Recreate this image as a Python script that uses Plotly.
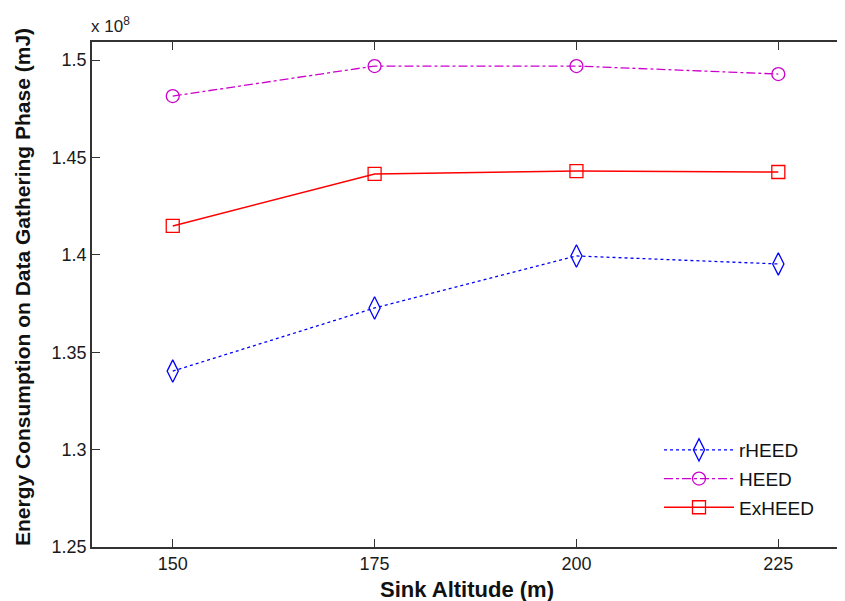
import plotly.graph_objects as go

altitude = [150, 175, 200, 225]
rheed = [1.3403, 1.3727, 1.3994, 1.3953]
heed = [1.4815, 1.4969, 1.4969, 1.4928]
exheed = [1.4148, 1.4415, 1.4430, 1.4425]
x_ticks = [150, 175, 200, 225]
y_ticks = [1.25, 1.3, 1.35, 1.4, 1.45, 1.5]
y_tick_text = ["1.25", "1.3", "1.35", "1.4", "1.45", "1.5"]

FONT = "Liberation Sans, Arial"

fig = go.Figure()
fig.add_trace(go.Scatter(x=altitude, y=rheed, name="rHEED", mode="lines+markers", legendgroup="a",
                         line=dict(color="#0000ff", width=1.3, dash="dot"),
                         marker=dict(symbol="diamond-tall-open", size=16, color="#0000ff", line=dict(width=1.3))))
fig.add_trace(go.Scatter(x=altitude, y=heed, name="HEED", mode="lines+markers", legendgroup="b",
                         line=dict(color="#cc00cc", width=1.3, dash="dashdot"),
                         marker=dict(symbol="circle-open", size=13, color="#cc00cc", line=dict(width=1.3))))
fig.add_trace(go.Scatter(x=altitude, y=exheed, name="ExHEED", mode="lines+markers", legendgroup="c",
                         line=dict(color="#ff0000", width=1.5),
                         marker=dict(symbol="square-open", size=13, color="#ff0000", line=dict(width=1.3))))

# screen geometry: page body has an 8px margin; plot area 92..845 x 42..547
L, T, W, H, B = 84, 34, 837, 593, 54
PW, PH = W - L, H - T - B
def px(x):
    return (x - 92) / PW
def py(y):
    return 1 - (y - 42) / PH

axis_font = dict(family=FONT, size=18, color="#1a1a1a")
fig.update_layout(
    width=W, height=H,
    margin=dict(l=L, r=0, t=T, b=B),
    paper_bgcolor="white", plot_bgcolor="white",
    showlegend=True,
    legend=dict(x=px(659), y=py(431), xanchor="left", yanchor="top",
                font=dict(family=FONT, size=19, color="#111111"),
                bgcolor="rgba(0,0,0,0)", tracegroupgap=1, itemwidth=70),
    xaxis=dict(range=[140, 233.26], tickvals=x_ticks, ticks="inside", ticklen=8,
               showline=True, linecolor="#333333", linewidth=1.5, mirror="allticks",
               showgrid=False, zeroline=False, tickfont=axis_font, tickcolor="#333333"),
    yaxis=dict(range=[1.25, 1.50924], tickvals=y_ticks, ticktext=y_tick_text, ticks="inside", ticklen=8,
               showline=True, linecolor="#333333", linewidth=1.5, mirror=False,
               showgrid=False, zeroline=False, tickfont=axis_font, tickcolor="#333333"),
    annotations=[
        dict(text="x 10<sup>8</sup>", x=px(89), y=py(25), xref="paper", yref="paper", showarrow=False,
             font=dict(family=FONT, size=17, color="#222222"),
             xanchor="left", yanchor="middle"),
        dict(text="<b>Sink Altitude (m)</b>", x=px(467), y=py(589), xref="paper", yref="paper", showarrow=False,
             font=dict(family=FONT, size=22, color="#111111"),
             xanchor="center", yanchor="middle"),
        dict(text="<b>Energy Consumption on Data Gathering Phase (mJ)</b>", x=px(22), y=py(287),
             xref="paper", yref="paper", showarrow=False, textangle=-90,
             font=dict(family=FONT, size=21, color="#111111"),
             xanchor="center", yanchor="middle"),
    ],
)
fig.write_html("out.html")
